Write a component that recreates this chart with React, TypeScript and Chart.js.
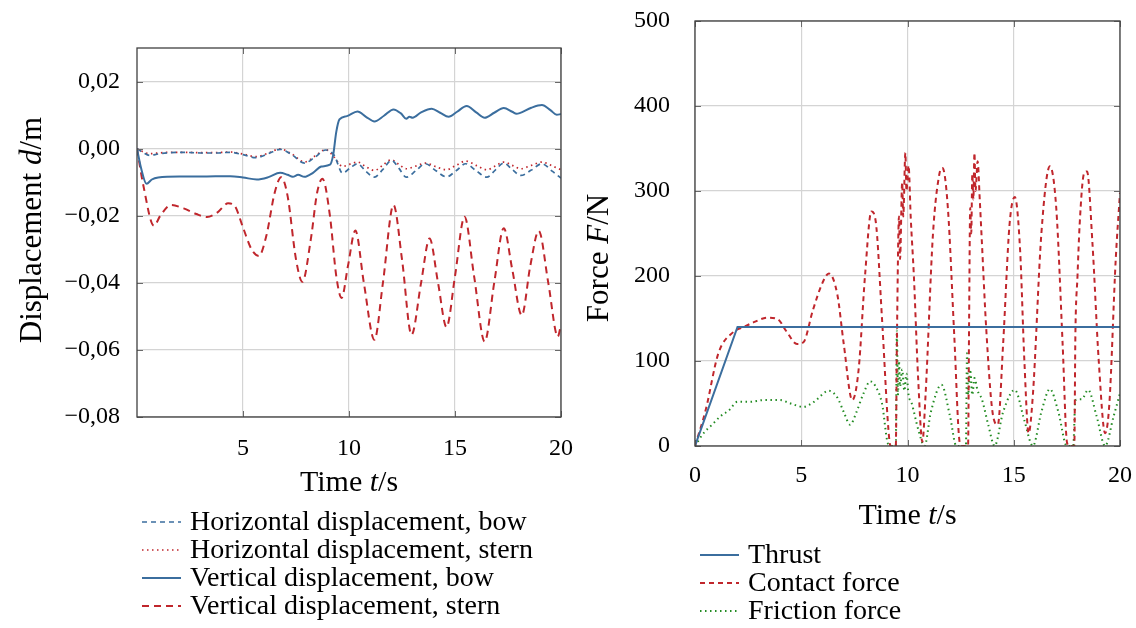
import React, { useEffect, useRef } from 'react';
import { Chart, registerables } from 'chart.js';
Chart.register(...registerables);

const SERIF = "'Liberation Serif', 'Times New Roman', serif";
const BLUE = '#3b6e9e';
const RED = '#c0262c';
const GREEN = '#228b22';

// ---------- Left chart: displacement ----------
const dispTicksX = [5, 10, 15, 20];
const dispTicksY = [-0.08, -0.06, -0.04, -0.02, 0, 0.02];

const hBowT = [0, 0.3, 0.6, 1.0, 1.5, 2.2, 3.0, 3.7, 4.4, 5.0, 5.6, 6.2, 6.75, 7.3, 7.9, 8.4, 8.9, 9.3, 9.7, 10.05, 10.4, 10.8, 11.2, 11.6, 12.0, 12.35, 12.7, 13.15, 13.6, 14.1, 14.6, 15.05, 15.5, 16.0, 16.5, 16.9, 17.3, 17.7, 18.1, 18.6, 19.1, 19.6, 20.0];
const hBowD = [0, -0.0012, -0.002, -0.0016, -0.0012, -0.0011, -0.0013, -0.0013, -0.0011, -0.0018, -0.0027, -0.0015, -0.0002, -0.0018, -0.0043, -0.0025, -0.0004, -0.002, -0.0073, -0.0058, -0.0045, -0.0068, -0.0085, -0.0062, -0.0035, -0.0058, -0.0085, -0.0066, -0.0045, -0.0066, -0.0084, -0.0066, -0.0045, -0.0066, -0.0085, -0.0064, -0.0043, -0.0062, -0.008, -0.0064, -0.0045, -0.0068, -0.0088];

const hSternT = [0, 0.3, 0.6, 1.0, 1.5, 2.2, 3.0, 3.7, 4.4, 5.0, 5.6, 6.2, 6.75, 7.3, 7.9, 8.4, 8.9, 9.3, 9.7, 10.05, 10.4, 10.8, 11.2, 11.6, 12.0, 12.35, 12.7, 13.15, 13.6, 14.1, 14.6, 15.05, 15.5, 16.0, 16.5, 16.9, 17.3, 17.7, 18.1, 18.6, 19.1, 19.6, 20.0];
const hSternD = [0, -0.001, -0.0015, -0.0013, -0.0011, -0.0011, -0.0012, -0.0012, -0.001, -0.0016, -0.0024, -0.0013, -0.0001, -0.0016, -0.004, -0.0022, -0.0003, -0.0025, -0.0053, -0.0046, -0.004, -0.0054, -0.0065, -0.0049, -0.0033, -0.0047, -0.006, -0.0052, -0.0043, -0.0054, -0.0063, -0.005, -0.0037, -0.005, -0.0063, -0.0052, -0.004, -0.005, -0.006, -0.005, -0.004, -0.0052, -0.0063];

const vBowT = [0, 0.2, 0.45, 0.7, 1.0, 2.0, 3.0, 4.4, 5.0, 5.65, 6.2, 6.75, 7.1, 7.35, 7.6, 7.9, 8.3, 8.7, 9.1, 9.25, 9.4, 9.55, 9.9, 10.4, 10.8, 11.2, 11.65, 12.1, 12.45, 12.7, 12.85, 13.0, 13.4, 13.9, 14.3, 14.7, 15.1, 15.55, 16.0, 16.4, 16.85, 17.3, 17.7, 17.9, 18.05, 18.6, 19.1, 19.5, 19.8, 20.0];
const vBowD = [0, -0.006, -0.0105, -0.0092, -0.0086, -0.0083, -0.0083, -0.0082, -0.0086, -0.0092, -0.0085, -0.0072, -0.0078, -0.0084, -0.0078, -0.0084, -0.0072, -0.0053, -0.0048, -0.002, 0.005, 0.0087, 0.0097, 0.0111, 0.0095, 0.0081, 0.0098, 0.0117, 0.0105, 0.0089, 0.0095, 0.0092, 0.0108, 0.0119, 0.0107, 0.0095, 0.011, 0.0127, 0.0108, 0.0092, 0.0107, 0.0121, 0.011, 0.0104, 0.0106, 0.0122, 0.013, 0.0115, 0.0101, 0.0103];

const vSternT = [0, 0.3, 0.8, 1.1, 1.6, 2.2, 2.8, 3.3, 3.8, 4.3, 4.6, 5.0, 5.4, 5.75, 6.1, 6.5, 6.8, 7.1, 7.5, 7.8, 8.2, 8.5, 8.75, 9.1, 9.4, 9.65, 9.95, 10.3, 10.7, 11.2, 11.6, 12.1, 12.5, 12.95, 13.4, 13.8, 14.2, 14.6, 15.0, 15.45, 15.9, 16.4, 16.85, 17.3, 17.7, 18.15, 18.55, 18.95, 19.4, 19.85, 20.0];
const vSternD = [0, -0.011, -0.023, -0.02, -0.0168, -0.0178, -0.0195, -0.0204, -0.019, -0.0163, -0.017, -0.0235, -0.03, -0.032, -0.026, -0.013, -0.0085, -0.014, -0.033, -0.0397, -0.027, -0.013, -0.009, -0.02, -0.038, -0.0445, -0.035, -0.0244, -0.04, -0.057, -0.04, -0.0168, -0.033, -0.0555, -0.04, -0.0268, -0.04, -0.0532, -0.038, -0.0203, -0.038, -0.0575, -0.04, -0.0237, -0.036, -0.0497, -0.035, -0.0245, -0.04, -0.056, -0.0525];

// ---------- Right chart: force ----------
const forceTicksX = [0, 5, 10, 15, 20];
const forceTicksY = [0, 100, 200, 300, 400, 500];

const thrustT = [0, 2, 20];
const thrustF = [0, 140, 140];

const contactT = [0, 0.5, 1.1, 1.8, 2.3, 2.8, 3.4, 3.9, 4.3, 4.8, 5.1, 5.55, 6.0, 6.3, 6.7, 7.0, 7.4, 7.7, 8.0, 8.3, 8.5, 8.8, 9.1, 9.2, 9.45, 9.5, 9.6, 9.65, 9.75, 9.8, 9.9, 9.95, 10.05, 10.15, 10.3, 10.5, 10.7, 10.85, 11.2, 11.5, 11.65, 11.9, 12.2, 12.45, 12.55, 12.85, 12.9, 12.95, 13.0, 13.05, 13.1, 13.15, 13.2, 13.3, 13.4, 13.5, 13.7, 14.0, 14.25, 14.5, 14.8, 15.05, 15.3, 15.5, 15.7, 15.9, 16.3, 16.7, 17.0, 17.3, 17.5, 17.6, 17.85, 17.9, 18.0, 18.1, 18.3, 18.45, 18.7, 19.0, 19.3, 19.5, 19.8, 20.0];
const contactF = [0, 42, 109, 134, 140, 146, 151, 149, 135, 120, 122, 160, 192, 203, 178, 120, 54, 90, 200, 276, 265, 150, 20, 0, 0, 120, 270, 220, 310, 270, 345, 300, 330, 270, 200, 80, 5, 60, 250, 320, 327, 280, 130, 5, 0, 0, 150, 280, 250, 320, 290, 345, 300, 335, 290, 240, 140, 40, 25, 120, 260, 293, 230, 100, 15, 60, 250, 329, 280, 120, 5, 0, 0, 130, 200, 260, 320, 323, 240, 100, 15, 50, 220, 298];

const frictionT = [0, 0.4, 0.8, 1.2, 1.6, 2.0, 2.6, 3.2, 4.0, 4.5, 5.1, 5.6, 6.3, 6.7, 7.0, 7.3, 7.6, 7.9, 8.25, 8.5, 8.8, 9.1, 9.45, 9.5, 9.55, 9.6, 9.65, 9.75, 9.85, 9.95, 10.05, 10.2, 10.5, 10.8, 11.1, 11.6, 12.0, 12.3, 12.75, 12.8, 12.85, 12.95, 13.05, 13.15, 13.3, 13.5, 13.8, 14.1, 14.5, 15.05, 15.5, 15.9, 16.3, 16.7, 17.1, 17.5, 17.8, 17.9, 18.2, 18.5, 18.9, 19.3, 19.7, 20.0];
const frictionF = [0, 15, 25, 35, 42, 52, 52, 54, 54, 50, 46, 52, 65, 57, 40, 25, 40, 60, 76, 70, 50, 2, 0, 136, 60, 100, 70, 90, 65, 85, 60, 50, 20, 0, 40, 72, 35, 0, 0, 109, 60, 90, 60, 80, 65, 55, 25, 0, 40, 66, 30, 0, 40, 67, 40, 0, 0, 54, 55, 66, 35, 0, 35, 62];

type Seg = [string, boolean];

function mixedText(ctx: CanvasRenderingContext2D, segs: Seg[], x: number, y: number, size: number, rotate: boolean) {
  ctx.save();
  ctx.translate(x, y);
  if (rotate) ctx.rotate(-Math.PI / 2);
  const fontOf = (it: boolean) => `${it ? 'italic ' : ''}${size}px ${SERIF}`;
  let total = 0;
  for (const [s, it] of segs) {
    ctx.font = fontOf(it);
    total += ctx.measureText(s).width;
  }
  let cx = -total / 2;
  ctx.fillStyle = '#000';
  ctx.textAlign = 'left';
  ctx.textBaseline = rotate ? 'middle' : 'alphabetic';
  for (const [s, it] of segs) {
    ctx.font = fontOf(it);
    ctx.fillText(s, cx, 0);
    cx += ctx.measureText(s).width;
  }
  ctx.restore();
}

interface LegendItem { label: string; color: string; dash: number[]; width: number; }

function makeDecor(opts: {
  xt: number[]; yt: number[];
  xTitle: Seg[]; yTitle: Seg[];
  xTitleBase: number; yTitleX: number; yTitleY: number;
  legend: LegendItem[]; legX: number; legY: number;
}) {
  return {
    id: 'decor',
    afterDraw(chart: any) {
      const { ctx, chartArea: a, scales } = chart;
      ctx.save();
      // inner tick marks
      ctx.strokeStyle = '#6a6a6a';
      ctx.lineWidth = 1;
      ctx.beginPath();
      for (const v of opts.xt) {
        const px = Math.round(scales.x.getPixelForValue(v)) + 0.5;
        ctx.moveTo(px, a.bottom); ctx.lineTo(px, a.bottom - 6);
        ctx.moveTo(px, a.top); ctx.lineTo(px, a.top + 6);
      }
      for (const v of opts.yt) {
        const py = Math.round(scales.y.getPixelForValue(v)) + 0.5;
        ctx.moveTo(a.left, py); ctx.lineTo(a.left + 6, py);
        ctx.moveTo(a.right, py); ctx.lineTo(a.right - 6, py);
      }
      ctx.stroke();
      // frame
      ctx.strokeStyle = '#404040';
      ctx.lineWidth = 1.3;
      ctx.strokeRect(a.left, a.top, a.right - a.left, a.bottom - a.top);
      ctx.restore();

      // titles
      mixedText(ctx, opts.xTitle, (a.left + a.right) / 2, opts.xTitleBase, 30, false);
      mixedText(ctx, opts.yTitle, opts.yTitleX, opts.yTitleY, 31, true);

      // legend
      ctx.save();
      opts.legend.forEach((it, i) => {
        const base = opts.legY + i * 28;
        ctx.strokeStyle = it.color;
        ctx.lineWidth = it.width;
        ctx.setLineDash(it.dash);
        ctx.beginPath();
        ctx.moveTo(opts.legX, base - 8);
        ctx.lineTo(opts.legX + 39, base - 8);
        ctx.stroke();
        ctx.setLineDash([]);
        ctx.fillStyle = '#000';
        ctx.font = `28px ${SERIF}`;
        ctx.textAlign = 'left';
        ctx.textBaseline = 'alphabetic';
        ctx.fillText(it.label, opts.legX + 48, base);
      });
      ctx.restore();
    },
  };
}

function series(label: string, t: number[], v: number[], color: string, dash: number[], width: number, smooth = true) {
  return {
    label,
    data: t.map((x, i) => ({ x, y: v[i] })),
    borderColor: color,
    backgroundColor: color,
    borderDash: dash,
    borderWidth: width,
    pointRadius: 0,
    fill: false,
    tension: smooth ? 0.3 : 0,
    cubicInterpolationMode: smooth ? 'monotone' : 'default',
  };
}

const GRID = '#d4d4d4';

function fmtDisp(v: number) {
  const s = Math.abs(v).toFixed(2).replace('.', ',');
  return v < -1e-9 ? '\u2212' + s : s;
}

function zeroPad(s: any) {
  s.paddingTop = 0; s.paddingBottom = 0; s.paddingLeft = 0; s.paddingRight = 0;
}

function baseScales(o: {
  xmin: number; xmax: number; ymin: number; ymax: number;
  xt: number[]; yt: number[]; yWidth: number; xHeight: number;
  yPad: number; xPad: number; yFmt: (v: number) => string;
}) {
  return {
    x: {
      type: 'linear',
      min: o.xmin, max: o.xmax,
      afterBuildTicks: (s: any) => { s.ticks = o.xt.map((value) => ({ value })); },
      afterFit: (s: any) => { s.height = o.xHeight; zeroPad(s); },
      grid: { color: GRID, lineWidth: 1.2, drawTicks: false },
      border: { display: false },
      ticks: { padding: o.xPad, color: '#000', font: { family: SERIF, size: 24 }, maxRotation: 0, autoSkip: false, callback: (v: any) => String(v) },
    },
    y: {
      type: 'linear',
      min: o.ymin, max: o.ymax,
      afterBuildTicks: (s: any) => { s.ticks = o.yt.map((value) => ({ value })); },
      afterFit: (s: any) => { s.width = o.yWidth; zeroPad(s); },
      grid: { color: GRID, lineWidth: 1.2, drawTicks: false },
      border: { display: false },
      ticks: { padding: o.yPad, color: '#000', font: { family: SERIF, size: 24 }, autoSkip: false, callback: (v: any) => o.yFmt(Number(v)) },
    },
  };
}

function DispChart() {
  const ref = useRef<HTMLCanvasElement>(null);
  useEffect(() => {
    const chart = new Chart(ref.current as HTMLCanvasElement, {
      type: 'line',
      data: {
        datasets: [
          series('Horizontal displacement, bow', hBowT, hBowD, BLUE, [5, 4], 1.7),
          series('Horizontal displacement, stern', hSternT, hSternD, RED, [1.5, 3.5], 1.7),
          series('Vertical displacement, bow', vBowT, vBowD, BLUE, [], 2),
          series('Vertical displacement, stern', vSternT, vSternD, RED, [7, 5], 2),
        ] as any,
      },
      options: {
        animation: false,
        responsive: false,
        events: [],
        layout: { padding: { left: 0, top: 48, right: 14, bottom: 628 - 417 - 40 } },
        plugins: { legend: { display: false }, tooltip: { enabled: false } },
        scales: baseScales({
          xmin: 0, xmax: 20, ymin: -0.08, ymax: 0.03,
          xt: dispTicksX, yt: dispTicksY, yWidth: 137, xHeight: 40,
          yPad: 17, xPad: 17, yFmt: fmtDisp,
        }) as any,
      },
      plugins: [makeDecor({
        xt: dispTicksX, yt: dispTicksY,
        xTitle: [['Time ', false], ['t', true], ['/s', false]],
        yTitle: [['Displacement ', false], ['d', true], ['/m', false]],
        xTitleBase: 491, yTitleX: 33, yTitleY: 230,
        legend: [
          { label: 'Horizontal displacement, bow', color: BLUE, dash: [5, 4], width: 1.7 },
          { label: 'Horizontal displacement, stern', color: RED, dash: [1.5, 3.5], width: 1.7 },
          { label: 'Vertical displacement, bow', color: BLUE, dash: [], width: 2 },
          { label: 'Vertical displacement, stern', color: RED, dash: [7, 5], width: 2 },
        ],
        legX: 142, legY: 530,
      })],
    });
    return () => chart.destroy();
  }, []);
  return <canvas ref={ref} width={575} height={628} style={{ position: 'absolute', left: 0, top: 0 }} />;
}

function ForceChart() {
  const ref = useRef<HTMLCanvasElement>(null);
  useEffect(() => {
    const chart = new Chart(ref.current as HTMLCanvasElement, {
      type: 'line',
      data: {
        datasets: [
          series('Thrust', thrustT, thrustF, BLUE, [], 2, false),
          series('Contact force', contactT, contactF, RED, [5, 4], 2),
          series('Friction force', frictionT, frictionF, GREEN, [1.5, 3.5], 2),
        ] as any,
      },
      options: {
        animation: false,
        responsive: false,
        events: [],
        layout: { padding: { left: 0, top: 21, right: 16, bottom: 628 - 446 - 40 } },
        plugins: { legend: { display: false }, tooltip: { enabled: false } },
        scales: baseScales({
          xmin: 0, xmax: 20, ymin: 0, ymax: 500,
          xt: forceTicksX, yt: forceTicksY, yWidth: 120, xHeight: 40,
          yPad: 25, xPad: 15, yFmt: (v) => String(Math.round(v)),
        }) as any,
      },
      plugins: [makeDecor({
        xt: forceTicksX, yt: forceTicksY,
        xTitle: [['Time ', false], ['t', true], ['/s', false]],
        yTitle: [['Force ', false], ['F', true], ['/N', false]],
        xTitleBase: 524, yTitleX: 25, yTitleY: 258,
        legend: [
          { label: 'Thrust', color: BLUE, dash: [], width: 2 },
          { label: 'Contact force', color: RED, dash: [5, 4], width: 2 },
          { label: 'Friction force', color: GREEN, dash: [1.5, 3.5], width: 2 },
        ],
        legX: 125, legY: 563,
      })],
    });
    return () => chart.destroy();
  }, []);
  return <canvas ref={ref} width={561} height={628} style={{ position: 'absolute', left: 575, top: 0 }} />;
}

export default function App() {
  return (
    <div style={{ position: 'fixed', left: 0, top: 0, width: 1136, height: 628, background: '#fff', overflow: 'hidden' }}>
      <DispChart />
      <ForceChart />
    </div>
  );
}
